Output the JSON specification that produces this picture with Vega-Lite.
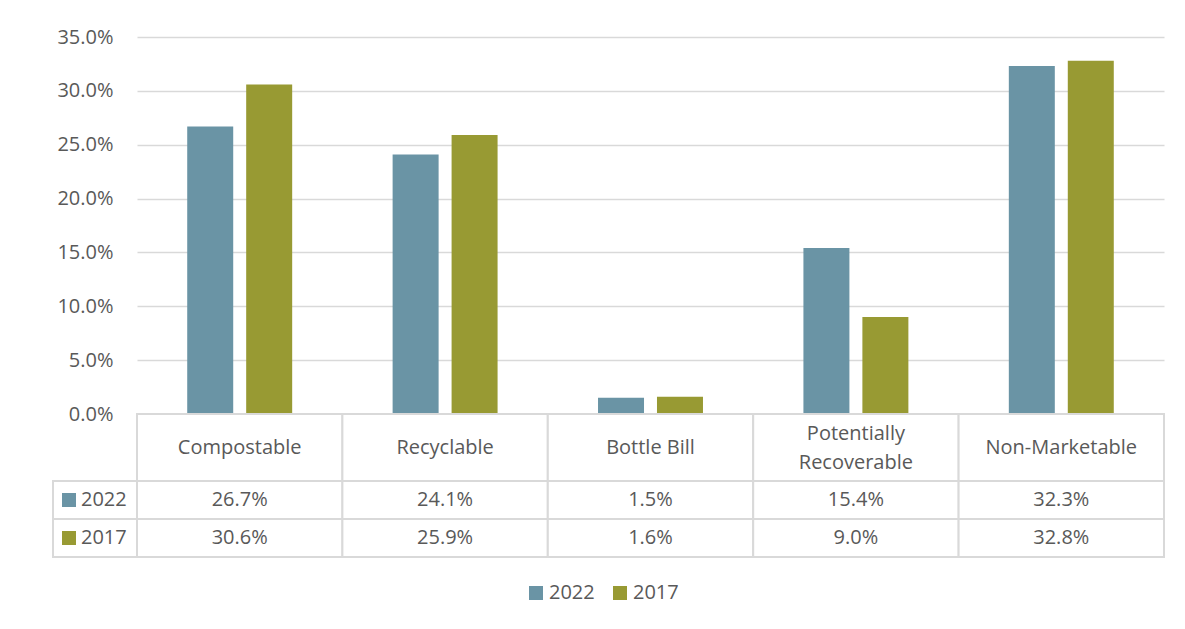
{
  "$schema": "https://vega.github.io/schema/vega-lite/v6.json",
  "autosize": {"type": "pad"},
  "padding": {"left": 52, "top": 27, "right": 22, "bottom": 20},
  "background": "white",
  "datasets": {
    "d": [
      {"category": "Compostable", "year": "2022", "value": 0.267},
      {"category": "Compostable", "year": "2017", "value": 0.306},
      {"category": "Recyclable", "year": "2022", "value": 0.241},
      {"category": "Recyclable", "year": "2017", "value": 0.259},
      {"category": "Bottle Bill", "year": "2022", "value": 0.015},
      {"category": "Bottle Bill", "year": "2017", "value": 0.016},
      {"category": "Potentially\nRecoverable", "year": "2022", "value": 0.154},
      {"category": "Potentially\nRecoverable", "year": "2017", "value": 0.090},
      {"category": "Non-Marketable", "year": "2022", "value": 0.323},
      {"category": "Non-Marketable", "year": "2017", "value": 0.328}
    ]
  },
  "columns": 2,
  "spacing": 0,
  "bounds": "flush",
  "resolve": {"scale": {"x": "independent", "y": "independent", "color": "shared"}},
  "concat": [
    {
      "width": 84, "height": 377,
      "data": {"name": "d"},
      "mark": {"type": "point", "opacity": 0},
      "encoding": {}
    },
    {
      "width": 1027, "height": 377,
      "data": {"name": "d"},
      "mark": {"type": "bar"},
      "encoding": {
        "x": {"field": "category", "type": "nominal", "sort": null, "axis": null,
              "scale": {"paddingInner": 0.489, "paddingOuter": 0.2445}},
        "xOffset": {"field": "year", "type": "nominal", "sort": ["2022", "2017"],
                    "scale": {"paddingInner": 0.22, "paddingOuter": 0}},
        "y": {"field": "value", "type": "quantitative",
              "scale": {"domain": [0, 0.35], "nice": false},
              "axis": {"values": [0, 0.05, 0.1, 0.15, 0.2, 0.25, 0.3, 0.35], "format": ".1%", "title": null,
                       "domain": false, "ticks": false, "grid": true, "labelPadding": 24}},
        "color": {"field": "year", "type": "nominal",
                  "scale": {"domain": ["2022", "2017"], "range": ["#6A94A5", "#989A33"]},
                  "legend": {"orient": "none", "direction": "horizontal", "legendX": 473, "legendY": 546,
                             "title": null, "symbolType": "square", "symbolSize": 196, "symbolStrokeWidth": 0,
                             "labelFontSize": 20, "labelColor": "#595959", "labelOffset": 3, "columnPadding": 15}}
      }
    },
    {
      "width": 84, "height": 67,
      "data": {"name": "d"},
      "mark": {"type": "point", "opacity": 0},
      "encoding": {}
    },
    {
      "width": 1027, "height": 67,
      "data": {"name": "d"},
      "transform": [{"filter": "datum.year == '2022'"}],
      "layer": [
        {
          "mark": {"type": "rect", "fill": "white", "stroke": "#D9D9D9", "strokeWidth": 2},
          "encoding": {
            "x": {"field": "category", "type": "nominal", "sort": null, "axis": null,
                  "scale": {"paddingInner": 0, "paddingOuter": 0}}
          }
        },
        {
          "transform": [{"filter": "indexof(datum.category, '\\n') < 0"}],
          "mark": {"type": "text", "fontSize": 20, "color": "#595959"},
          "encoding": {
            "x": {"field": "category", "type": "nominal", "sort": null, "axis": null,
                  "scale": {"paddingInner": 0, "paddingOuter": 0}},
            "text": {"field": "category"}
          }
        },
        {
          "transform": [{"filter": "indexof(datum.category, '\\n') >= 0"}],
          "mark": {"type": "text", "lineBreak": "\n", "lineHeight": 29, "dy": -14, "fontSize": 20, "color": "#595959"},
          "encoding": {
            "x": {"field": "category", "type": "nominal", "sort": null, "axis": null,
                  "scale": {"paddingInner": 0, "paddingOuter": 0}},
            "text": {"field": "category"}
          }
        }
      ],
      "resolve": {"scale": {"x": "shared"}}
    },
    {
      "width": 84, "height": 76,
      "data": {"name": "d"},
      "transform": [{"filter": "datum.category == 'Compostable'"}],
      "layer": [
        {
          "mark": {"type": "rect", "fill": "white", "stroke": "#D9D9D9", "strokeWidth": 2},
          "encoding": {
            "y": {"field": "year", "type": "nominal", "sort": ["2022", "2017"], "axis": null,
                  "scale": {"paddingInner": 0, "paddingOuter": 0}}
          }
        },
        {
          "mark": {"type": "point", "shape": "square", "filled": true, "size": 196, "opacity": 1, "xOffset": -26},
          "encoding": {
            "y": {"field": "year", "type": "nominal", "sort": ["2022", "2017"], "axis": null,
                  "scale": {"paddingInner": 0, "paddingOuter": 0}},
            "color": {"field": "year", "type": "nominal"}
          }
        },
        {
          "mark": {"type": "text", "align": "left", "xOffset": -14, "fontSize": 20, "color": "#595959"},
          "encoding": {
            "y": {"field": "year", "type": "nominal", "sort": ["2022", "2017"], "axis": null,
                  "scale": {"paddingInner": 0, "paddingOuter": 0}},
            "text": {"field": "year"}
          }
        }
      ]
    },
    {
      "width": 1027, "height": 76,
      "data": {"name": "d"},
      "layer": [
        {
          "mark": {"type": "rect", "fill": "white", "stroke": "#D9D9D9", "strokeWidth": 2},
          "encoding": {
            "x": {"field": "category", "type": "nominal", "sort": null, "axis": null,
                  "scale": {"paddingInner": 0, "paddingOuter": 0}},
            "y": {"field": "year", "type": "nominal", "sort": ["2022", "2017"], "axis": null,
                  "scale": {"paddingInner": 0, "paddingOuter": 0}}
          }
        },
        {
          "mark": {"type": "text", "fontSize": 20, "color": "#595959"},
          "encoding": {
            "x": {"field": "category", "type": "nominal", "sort": null, "axis": null,
                  "scale": {"paddingInner": 0, "paddingOuter": 0}},
            "y": {"field": "year", "type": "nominal", "sort": ["2022", "2017"], "axis": null,
                  "scale": {"paddingInner": 0, "paddingOuter": 0}},
            "text": {"field": "value", "type": "quantitative", "format": ".1%"}
          }
        }
      ]
    }
  ],
  "config": {
    "view": {"stroke": null},
    "font": "Open Sans",
    "axis": {"labelFont": "Open Sans", "labelColor": "#595959", "labelFontSize": 20,
             "gridColor": "#D9D9D9", "gridWidth": 1.5},
    "legend": {"labelFont": "Open Sans"},
    "text": {"font": "Open Sans"}
  }
}
